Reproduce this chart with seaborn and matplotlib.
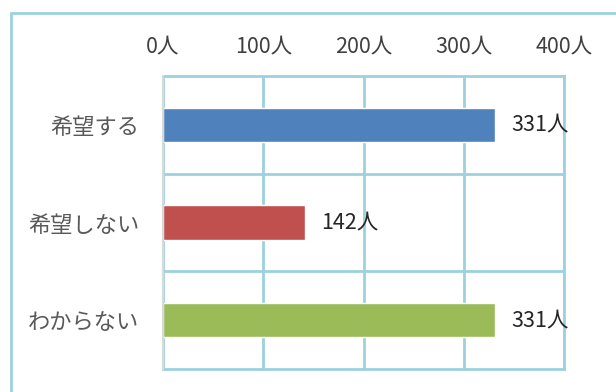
import matplotlib
matplotlib.use('Agg')
import matplotlib.pyplot as plt
import seaborn as sns
import pandas as pd
from matplotlib.patches import Rectangle

# data
categories = ['希望する', '希望しない', 'わからない']
counts = [331, 142, 331]
bar_colors = ['#4F81BD', '#C0504D', '#9BBB59']
tick_values = [0, 100, 200, 300, 400]
tick_labels = ['0人', '100人', '200人', '300人', '400人']

sns.set_style('white')
plt.rcParams['font.family'] = ['Noto Sans CJK JP', 'DejaVu Sans']

grid_color = '#9DD1E0'
text_color = '#595959'

df = pd.DataFrame({'category': categories, 'count': counts})

fig = plt.figure(figsize=(6.16, 3.92), dpi=100)
ax = fig.add_axes([163 / 616, 23 / 392, 401 / 616, 293 / 392])

sns.barplot(data=df, x='count', y='category', hue='category',
            palette=bar_colors, orient='h', width=0.35, legend=False,
            saturation=1, ax=ax)

ax.set_xlim(0, 400)
ax.set_ylim(2.5, -0.5)
ax.set_xlabel('')
ax.set_ylabel('')

# ticks on top
ax.xaxis.tick_top()
ax.set_xticks(tick_values)
ax.set_xticklabels(tick_labels, fontsize=15.5, color='#404040')
ax.tick_params(axis='x', length=0, pad=13)
ax.tick_params(axis='y', length=0, pad=17, labelsize=16, labelcolor=text_color)

# grid lines: vertical at ticks, horizontal between categories
ax.set_yticks([0.5, 1.5], minor=True)
ax.tick_params(axis='y', which='minor', length=0)
ax.grid(axis='x', color=grid_color, linewidth=2)
ax.grid(axis='y', which='minor', color=grid_color, linewidth=2)
ax.grid(axis='y', which='major', visible=False)
ax.set_axisbelow(True)

for side in ['top', 'bottom', 'right']:
    ax.spines[side].set_color(grid_color)
    ax.spines[side].set_linewidth(2)
ax.spines['left'].set_color('#D9D9D9')
ax.spines['left'].set_linewidth(1.5)
ax.spines['left'].set_zorder(3)

# value labels
for i, v in enumerate(counts):
    ax.text(v + 16, i, f'{v}人', va='center', ha='left', fontsize=15.5,
            color='#262626')

# chart frame, runs off the right and bottom edges
fig.patches.append(Rectangle((11 / 616, -0.1), 1.2, 1 - 13 / 392 + 0.1,
                             transform=fig.transFigure, fill=False,
                             edgecolor=grid_color, linewidth=2))

fig.savefig('out.png', dpi=100)
